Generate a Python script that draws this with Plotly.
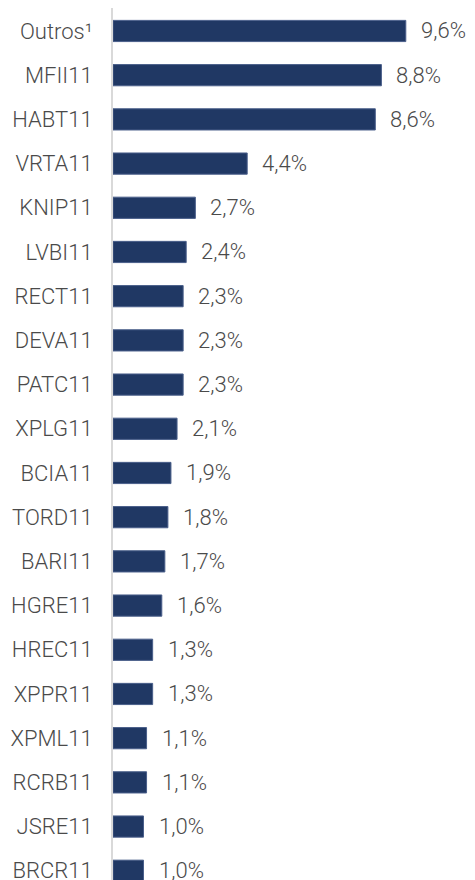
import plotly.graph_objects as go

categories = ["Outros¹", "MFII11", "HABT11", "VRTA11", "KNIP11", "LVBI11", "RECT11", "DEVA11",
              "PATC11", "XPLG11", "BCIA11", "TORD11", "BARI11", "HGRE11", "HREC11", "XPPR11",
              "XPML11", "RCRB11", "JSRE11", "BRCR11"]
values = [9.6, 8.8, 8.6, 4.4, 2.7, 2.4, 2.3, 2.3, 2.3, 2.1, 1.9, 1.8, 1.7, 1.6, 1.3, 1.3,
          1.1, 1.1, 1.0, 1.0]
labels = [f"{v:.1f}%".replace(".", ",") for v in values]

font_family = "Roboto"
text_color = "#4a4a4a"
fsize = 22

fig = go.Figure(go.Bar(
    x=values, y=categories, orientation="h",
    width=0.48,
    marker=dict(color="#203864", line=dict(color="#4a5f8a", width=1)),
    hoverinfo="skip",
))

for c, v, t in zip(categories, values, labels):
    fig.add_annotation(x=v, y=c, text=t, showarrow=False, xanchor="left",
                       xshift=13, font=dict(family=font_family, size=fsize, color=text_color, weight=300))

fig.update_layout(
    width=475, height=880,
    margin=dict(l=105, r=0, t=0, b=0, autoexpand=False),
    plot_bgcolor="white", paper_bgcolor="white",
    showlegend=False,
    xaxis=dict(range=[0, 370 / 30.5], visible=False, fixedrange=True),
    yaxis=dict(range=[19.39, -0.52], showline=True, linecolor="#d9d9d9", linewidth=2,
               showgrid=False, ticks="", ticklabelstandoff=14,
               tickfont=dict(family=font_family, size=fsize, color=text_color, weight=300)),
)

fig.write_html("out.html")
